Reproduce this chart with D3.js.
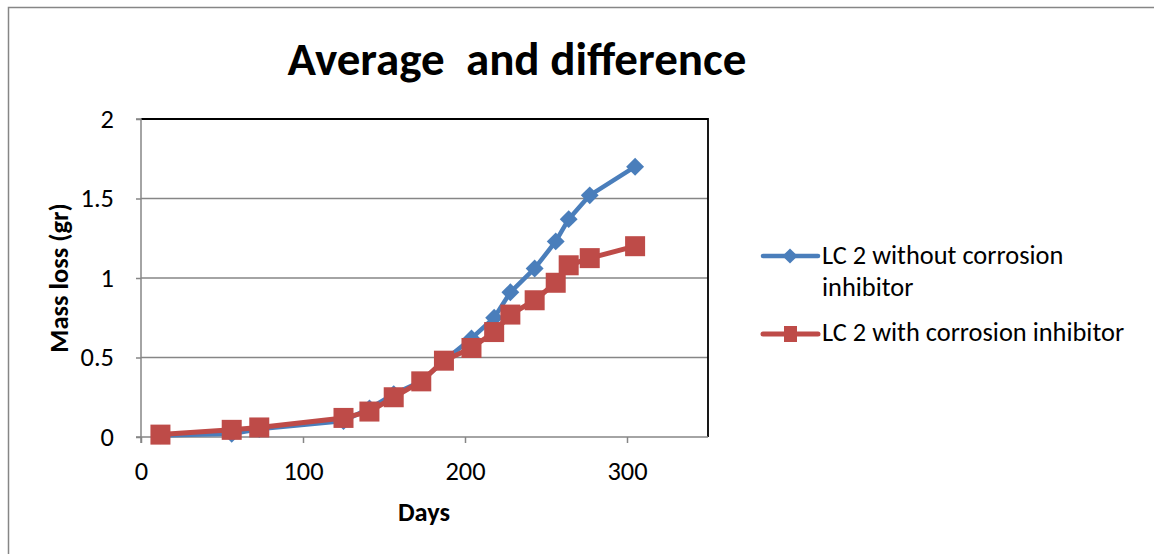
<!DOCTYPE html>
<html>
<head>
<meta charset="utf-8">
<script src="https://cdn.jsdelivr.net/npm/d3@7"></script>
<style>
  html, body { margin: 0; padding: 0; background: #fff; }
  svg { display: block; font-family: Carlito, Calibri, Lato, "Open Sans", sans-serif; }
</style>
</head>
<body>
<svg id="chart" width="1154" height="554"></svg>
<script>
// Exposure time in days for each weighing
const days = [12, 56, 73, 125, 141, 156, 173, 187, 204, 218, 228, 243, 256, 264, 277, 305];
// Mass loss (gr) without inhibitor
const withoutInhibitor = [0.01, 0.02, 0.05, 0.10, 0.18, 0.27, 0.35, 0.48, 0.62, 0.75, 0.91, 1.06, 1.23, 1.37, 1.52, 1.70];
// Mass loss (gr) with inhibitor
const withInhibitor = [0.015, 0.045, 0.06, 0.12, 0.16, 0.25, 0.35, 0.48, 0.56, 0.66, 0.77, 0.86, 0.97, 1.08, 1.125, 1.20];
const xTicks = [0, 100, 200, 300];
const yTicks = [0, 0.5, 1, 1.5, 2];

const FONT = "Carlito, Calibri, Lato, 'Open Sans', sans-serif";
const LABEL_SIZE = 26.4;
const svg = d3.select("#chart");

// outer chart frame (left and top edges visible)
svg.append("path")
  .attr("d", "M8.5,560 L8.5,7.5 L1160,7.5")
  .attr("fill", "none").attr("stroke", "#868686").attr("stroke-width", 1.5);

const plot = { left: 141, right: 708, top: 119, bottom: 437 };
const x = d3.scaleLinear().domain([0, 350]).range([plot.left, plot.right]);
const y = d3.scaleLinear().domain([0, 2]).range([plot.bottom, plot.top]);

// horizontal gridlines
svg.append("g").selectAll("line").data(yTicks.filter(d => d > 0 && d < 2)).join("line")
  .attr("x1", plot.left).attr("x2", plot.right)
  .attr("y1", d => y(d)).attr("y2", d => y(d))
  .attr("stroke", "#868686").attr("stroke-width", 1.5);

// plot-area border: top and right in black
svg.append("path")
  .attr("d", `M${plot.left},${plot.top} L${plot.right},${plot.top} L${plot.right},${plot.bottom}`)
  .attr("fill", "none").attr("stroke", "#000").attr("stroke-width", 1.8);

// axes
const xAxis = d3.axisBottom(x).tickValues(xTicks).tickSize(6).tickPadding(18).tickFormat(d3.format("d"));
const gx = svg.append("g").attr("transform", `translate(0,${plot.bottom})`).call(xAxis);
gx.select(".domain").attr("stroke", "#868686").attr("stroke-width", 1.5)
  .attr("d", `M${plot.left},6V0H${plot.right}`);
gx.selectAll(".tick line").attr("stroke", "#868686").attr("stroke-width", 1.5);
gx.selectAll(".tick text").attr("font-size", LABEL_SIZE).attr("fill", "#000").attr("font-family", FONT);

const yAxis = d3.axisLeft(y).tickValues(yTicks).tickSize(5).tickPadding(22).tickFormat(d => String(d));
const gy = svg.append("g").attr("transform", `translate(${plot.left},0)`).call(yAxis);
gy.select(".domain").attr("stroke", "#868686").attr("stroke-width", 1.5)
  .attr("d", `M-5,${plot.top}H0V${plot.bottom}H-5`);
gy.selectAll(".tick line").attr("stroke", "#868686").attr("stroke-width", 1.5);
gy.selectAll(".tick text").attr("font-size", LABEL_SIZE).attr("fill", "#000").attr("font-family", FONT);

// titles
svg.append("text").attr("x", 517).attr("y", 75).attr("text-anchor", "middle")
  .attr("font-size", 47).attr("font-weight", "bold").style("white-space", "pre")
  .text("Average  and difference");
svg.append("text").attr("x", 424).attr("y", 521).attr("text-anchor", "middle")
  .attr("font-size", LABEL_SIZE).attr("font-weight", "bold").text("Days");
svg.append("text").attr("transform", "translate(68,278) rotate(-90)").attr("text-anchor", "middle")
  .attr("font-size", LABEL_SIZE).attr("font-weight", "bold").text("Mass loss (gr)");

const blue = "#4A7EBB", red = "#BE4B48";
const line = d3.line().x(d => x(d[0])).y(d => y(d[1]));
const s1 = days.map((d, i) => [d, withoutInhibitor[i]]);
const s2 = days.map((d, i) => [d, withInhibitor[i]]);

// series without inhibitor: line + diamonds
svg.append("path").datum(s1).attr("d", line)
  .attr("fill", "none").attr("stroke", blue).attr("stroke-width", 4.5).attr("stroke-linejoin", "round");
svg.append("g").selectAll("path").data(s1).join("path")
  .attr("d", d3.symbol().type(d3.symbolSquare).size(160))
  .attr("transform", d => `translate(${x(d[0])},${y(d[1])}) rotate(45)`)
  .attr("fill", blue);

// series with inhibitor: line + squares
svg.append("path").datum(s2).attr("d", line)
  .attr("fill", "none").attr("stroke", red).attr("stroke-width", 5).attr("stroke-linejoin", "round");
svg.append("g").selectAll("rect").data(s2).join("rect")
  .attr("x", d => x(d[0]) - 10).attr("y", d => y(d[1]) - 10)
  .attr("width", 20).attr("height", 20).attr("fill", red);

// legend
const lg = svg.append("g").attr("font-size", LABEL_SIZE);
lg.append("line").attr("x1", 763).attr("x2", 818).attr("y1", 256).attr("y2", 256)
  .attr("stroke", blue).attr("stroke-width", 4.5).attr("stroke-linecap", "round");
lg.append("path").attr("d", d3.symbol().type(d3.symbolSquare).size(115))
  .attr("transform", "translate(790,256) rotate(45)").attr("fill", blue);
const t1 = lg.append("text").attr("x", 822).attr("y", 264);
t1.append("tspan").attr("x", 822).text("LC 2 without corrosion");
t1.append("tspan").attr("x", 822).attr("dy", 32).text("inhibitor");

lg.append("line").attr("x1", 763).attr("x2", 818).attr("y1", 334).attr("y2", 334)
  .attr("stroke", red).attr("stroke-width", 5).attr("stroke-linecap", "round");
lg.append("rect").attr("x", 784).attr("y", 326).attr("width", 13).attr("height", 16).attr("fill", red);
lg.append("text").attr("x", 822).attr("y", 341).text("LC 2 with corrosion inhibitor");
</script>
</body>
</html>
